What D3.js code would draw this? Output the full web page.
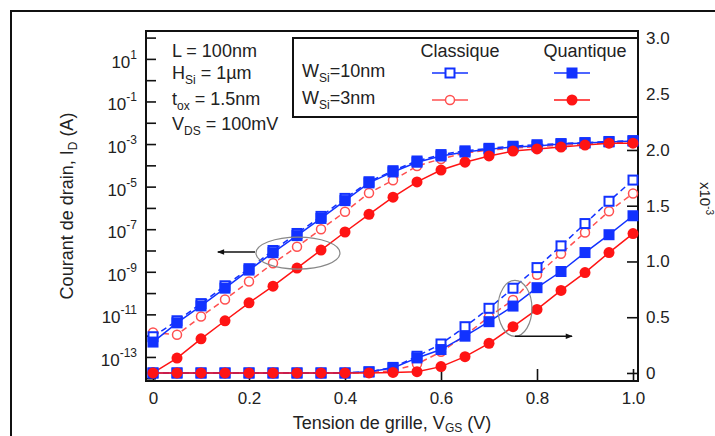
<!DOCTYPE html>
<html>
<head>
<meta charset="utf-8">
<script src="https://d3js.org/d3.v7.min.js"></script>
<style>
  body { margin: 0; background: #fff; }
  svg text { font-family: "Liberation Sans", Arial, sans-serif; fill: #222; }
</style>
</head>
<body>
<svg id="chart" width="715" height="436"></svg>
<script>
// tension de grille (V)
const vgs = [0, 0.05, 0.1, 0.15, 0.2, 0.25, 0.3, 0.35, 0.4, 0.45, 0.5,
             0.55, 0.6, 0.65, 0.7, 0.75, 0.8, 0.85, 0.9, 0.95, 1.0];

// courant de drain (A), echelle log
const logClassique10 = [8.9e-13, 5.0e-12, 3.2e-11, 2.2e-10, 1.4e-9, 1.0e-8, 6.3e-8, 4.0e-7, 2.8e-6, 1.7e-5, 5.6e-5,
                        1.6e-4, 3.2e-4, 4.8e-4, 6.3e-4, 7.9e-4, 9.3e-4, 1.05e-3, 1.17e-3, 1.32e-3, 1.45e-3];
const logQuantique10 = [5.0e-13, 4.0e-12, 2.5e-11, 1.7e-10, 1.2e-9, 7.9e-9, 5.0e-8, 3.2e-7, 2.2e-6, 1.5e-5, 4.9e-5,
                        1.4e-4, 2.75e-4, 4.2e-4, 5.75e-4, 7.2e-4, 8.1e-4, 1.0e-3, 1.12e-3, 1.26e-3, 1.38e-3];
const logClassique3  = [1.4e-12, 1.1e-12, 7.9e-12, 5.0e-11, 3.5e-10, 2.5e-9, 1.5e-8, 1.0e-7, 6.6e-7, 5.0e-6, 2.0e-5,
                        9.3e-5, 2.0e-4, 3.8e-4, 5.2e-4, 6.5e-4, 7.6e-4, 8.7e-4, 1.0e-3, 1.12e-3, 1.2e-3];
const logQuantique3  = [1.8e-14, 8.9e-14, 7.1e-13, 5.0e-12, 3.5e-11, 2.1e-10, 1.5e-9, 1.05e-8, 7.4e-8, 5.0e-7, 3.2e-6,
                        1.66e-5, 6.0e-5, 1.4e-4, 2.75e-4, 4.7e-4, 5.9e-4, 7.2e-4, 8.9e-4, 1.1e-3, 1.1e-3];

// courant de drain (x10^-3 A), echelle lineaire
const linClassique10 = [0, 0, 0, 0, 0, 0, 0, 0, 0, 0.01, 0.05, 0.15, 0.26, 0.415, 0.58, 0.76, 0.945, 1.14, 1.34, 1.54, 1.73];
const linQuantique10 = [0, 0, 0, 0, 0, 0, 0, 0, 0, 0.01, 0.045, 0.135, 0.21, 0.33, 0.46, 0.60, 0.765, 0.91, 1.08, 1.24, 1.41];
const linClassique3  = [0, 0, 0, 0, 0, 0, 0, 0, 0, 0.005, 0.02, 0.08, 0.19, 0.335, 0.505, 0.655, 0.88, 1.07, 1.26, 1.45, 1.61];
const linQuantique3  = [0, 0, 0, 0, 0, 0, 0, 0, 0, 0, 0.005, 0.012, 0.057, 0.146, 0.266, 0.415, 0.57, 0.74, 0.90, 1.08, 1.25];

// ticks
const xTicks = [0, 0.2, 0.4, 0.6, 0.8, 1.0];
const logExponents = [2, 1, 0, -1, -2, -3, -4, -5, -6, -7, -8, -9, -10, -11, -12, -13, -14];
const linTicks = [0, 0.5, 1.0, 1.5, 2.0, 2.5, 3.0];

// textes
const paramText = [
  ["L = 100nm", "", ""],
  ["H", "Si", " = 1\u00b5m"],
  ["t", "ox", " = 1.5nm"],
  ["V", "DS", " = 100mV"]
];
const legendCols = ["Classique", "Quantique"];
const legendRows = [["W", "Si", "=10nm"], ["W", "Si", "=3nm"]];

const blue = "#1232ff", red = "#ff1414", pink = "#ff5050";

const series = [
  { log: logClassique3,  lin: linClassique3,  color: red,  dash: "6,4", shape: "circle", filled: false },
  { log: logClassique10, lin: linClassique10, color: blue, dash: "6,4", shape: "square", filled: false },
  { log: logQuantique10, lin: linQuantique10, color: blue, dash: null,  shape: "square", filled: true },
  { log: logQuantique3,  lin: linQuantique3,  color: red,  dash: null,  shape: "circle", filled: true }
];

const svg = d3.select("#chart");
const plot = { left: 146, top: 31, right: 638, bottom: 381 };

const x = d3.scaleLinear().domain([-0.0146, 1.0104]).range([plot.left, plot.right]);
const yLog = d3.scaleLog().domain([Math.pow(10, -14.13), Math.pow(10, 2.31)]).range([plot.bottom, plot.top]);
const yLin = d3.scaleLinear().domain([-0.072, 3.067]).range([plot.bottom, plot.top]);

// cadre exterieur
svg.append("rect")
  .attr("x", 11).attr("y", 11).attr("width", 730).attr("height", 450)
  .attr("fill", "none").attr("stroke", "#111").attr("stroke-width", 2);

// axes
function styleAxis(g) {
  g.select(".domain").remove();
  g.selectAll(".tick line").attr("stroke", "#111").attr("stroke-width", 1.6);
  g.selectAll("text").attr("font-size", null).style("font-size", "17px").attr("fill", "#222");
  g.attr("font-family", null).attr("font-size", null);
}

svg.append("g")
  .attr("transform", `translate(0,${plot.bottom})`)
  .call(d3.axisBottom(x).tickValues(xTicks).tickSize(-12).tickSizeOuter(0).tickPadding(11)
    .tickFormat(d => d === 0 ? "0" : d3.format(".1f")(d)))
  .call(styleAxis);

svg.append("g")
  .attr("transform", `translate(${plot.left},0)`)
  .call(d3.axisLeft(yLog).tickValues(logExponents.map(e => Math.pow(10, e))).tickSize(-10).tickSizeOuter(0).tickFormat(""))
  .call(styleAxis);

logExponents.filter(e => Math.abs(e) % 2 === 1).forEach(e => {
  const t = svg.append("text")
    .attr("x", 137).attr("y", yLog(Math.pow(10, e)) + 9)
    .attr("text-anchor", "end").style("font-size", "17px");
  t.append("tspan").text("10");
  t.append("tspan").attr("dy", -9).style("font-size", "12px").text(e);
});

svg.append("g")
  .attr("transform", `translate(${plot.right},0)`)
  .call(d3.axisRight(yLin).tickValues(linTicks).tickSize(-11).tickSizeOuter(0).tickPadding(8)
    .tickFormat(d => d === 0 ? "0" : d3.format(".1f")(d)))
  .call(styleAxis);

// cadre du graphe
svg.append("rect")
  .attr("x", plot.left).attr("y", plot.top)
  .attr("width", plot.right - plot.left).attr("height", plot.bottom - plot.top)
  .attr("fill", "none").attr("stroke", "#111").attr("stroke-width", 2);

// titres des axes
const xt = svg.append("text").attr("x", (plot.left + plot.right) / 2).attr("y", 429)
  .attr("text-anchor", "middle").style("font-size", "18px");
xt.append("tspan").text("Tension de grille, V");
xt.append("tspan").attr("dy", 3).style("font-size", "12px").text("GS");
xt.append("tspan").attr("dy", -3).text(" (V)");

const yt = svg.append("text").attr("transform", `translate(73,${(plot.top + plot.bottom) / 2}) rotate(-90)`)
  .attr("text-anchor", "middle").style("font-size", "18px");
yt.append("tspan").text("Courant de drain, I");
yt.append("tspan").attr("dy", 4).style("font-size", "12px").text("D");
yt.append("tspan").attr("dy", -4).text(" (A)");

const rt = svg.append("text").attr("transform", "translate(700,182) rotate(90)")
  .style("font-size", "15px");
rt.append("tspan").text("x10");
rt.append("tspan").attr("dy", -6).style("font-size", "10px").text("-3");

// courbes
function drawSeries(s, yScale, values) {
  const pts = vgs.map((v, i) => [x(v), yScale(values[i])]);
  svg.append("path")
    .attr("d", d3.line()(pts))
    .attr("fill", "none")
    .attr("stroke", s.filled ? s.color : (s.color === red ? pink : s.color))
    .attr("stroke-width", 1.5)
    .attr("stroke-dasharray", s.dash);
  drawMarkers(s, pts);
}

function drawMarkers(s, pts) {
  const g = svg.append("g");
  if (s.shape === "square") {
    const size = s.filled ? 11 : 9;
    g.selectAll("rect").data(pts).join("rect")
      .attr("x", d => d[0] - size / 2).attr("y", d => d[1] - size / 2)
      .attr("width", size).attr("height", size)
      .attr("fill", s.filled ? s.color : "#fff")
      .attr("stroke", s.color).attr("stroke-width", s.filled ? 0 : 2);
  } else {
    g.selectAll("circle").data(pts).join("circle")
      .attr("cx", d => d[0]).attr("cy", d => d[1])
      .attr("r", s.filled ? 5.5 : 4.5)
      .attr("fill", s.filled ? s.color : "#fff")
      .attr("stroke", s.filled ? "none" : pink).attr("stroke-width", 1.5);
  }
}

series.forEach(s => drawSeries(s, yLog, s.log));
series.forEach(s => drawSeries(s, yLin, s.lin));

// annotations
const ovals = [
  { cx: 0.302, cy: yLog(7.6e-9), rx: 42, ry: 16 },
  { cx: 0.754, cy: yLin(0.58), rx: 17, ry: 28 }
];
const arrows = [
  { x0: 0.2125, x1: 0.135, y: yLog(8.5e-9) },
  { x0: 0.754, x1: 0.873, y: yLin(0.33) }
];

svg.append("defs").append("marker")
  .attr("id", "head").attr("viewBox", "0 0 10 10").attr("refX", 9).attr("refY", 5)
  .attr("markerWidth", 9).attr("markerHeight", 7).attr("markerUnits", "userSpaceOnUse")
  .attr("orient", "auto")
  .append("path").attr("d", "M0,1 L10,5 L0,9 Z").attr("fill", "#111");

ovals.forEach(o => {
  svg.append("ellipse")
    .attr("cx", x(o.cx)).attr("cy", o.cy).attr("rx", o.rx).attr("ry", o.ry)
    .attr("fill", "none").attr("stroke", "#888").attr("stroke-width", 1.2);
});
arrows.forEach(a => {
  svg.append("line")
    .attr("x1", x(a.x0)).attr("x2", x(a.x1)).attr("y1", a.y).attr("y2", a.y)
    .attr("stroke", "#111").attr("stroke-width", 1.5).attr("marker-end", "url(#head)");
});

// parametres
const paramY = [57, 79, 105, 130];
paramText.forEach((p, i) => {
  const t = svg.append("text").attr("x", 172).attr("y", paramY[i]).style("font-size", "18px");
  t.append("tspan").text(p[0]);
  if (p[1]) {
    t.append("tspan").attr("dy", 5).style("font-size", "12px").text(p[1]);
    t.append("tspan").attr("dy", -5).text(p[2]);
  }
});

// legende
svg.append("rect")
  .attr("x", 293).attr("y", 38).attr("width", 345).attr("height", 79)
  .attr("fill", "#fff").attr("stroke", "#111").attr("stroke-width", 2);

const colX = [450, 572];
const rowY = [73, 100];
legendCols.forEach((c, i) => {
  svg.append("text").attr("x", colX[i] + (i === 0 ? 10 : 13)).attr("y", 57)
    .attr("text-anchor", "middle").style("font-size", "18px").text(c);
});
legendRows.forEach((r, i) => {
  const t = svg.append("text").attr("x", 302).attr("y", rowY[i] + 4).style("font-size", "18px");
  t.append("tspan").text(r[0]);
  t.append("tspan").attr("dy", 5).style("font-size", "12px").text(r[1]);
  t.append("tspan").attr("dy", -5).text(r[2]);
});

const legendSeries = [[series[1], series[2]], [series[0], series[3]]];
legendSeries.forEach((row, ri) => {
  row.forEach((s, ci) => {
    const cx = colX[ci], cy = rowY[ri];
    svg.append("line")
      .attr("x1", cx - 18).attr("x2", cx + 18).attr("y1", cy).attr("y2", cy)
      .attr("stroke", s.filled ? s.color : (s.color === red ? pink : s.color)).attr("stroke-width", 1.5);
    drawMarkers(s, [[cx, cy]]);
  });
});
</script>
</body>
</html>
